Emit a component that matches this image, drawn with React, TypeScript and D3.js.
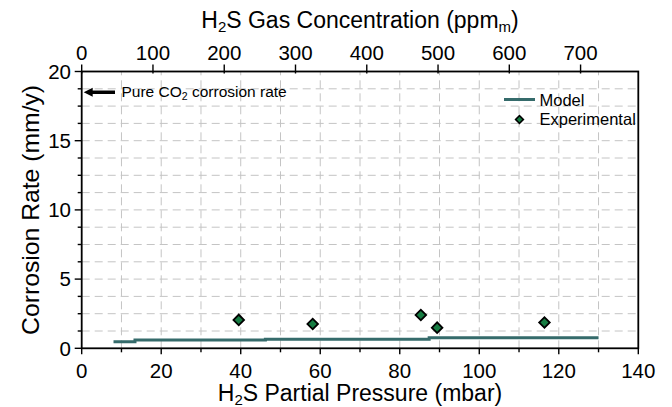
import React from 'react';
import * as d3 from 'd3';

const W = 672;
const H = 407;

const pressureTicks = [0, 20, 40, 60, 80, 100, 120, 140];
const pressureMinor = [10, 30, 50, 70, 90, 110, 130];
const ppmTicks = [0, 100, 200, 300, 400, 500, 600, 700];
const rateTicks = [0, 5, 10, 15, 20];
const rateMinor = [1.25, 2.5, 3.75, 6.25, 7.5, 8.75, 11.25, 12.5, 13.75, 16.25, 17.5, 18.75];

const modelPressure = [8, 13.4, 46.2, 87.4, 130];
const modelRate = [0.48, 0.6, 0.66, 0.76, 0.76];

const expPressure = [39.5, 58.1, 85.3, 89.4, 116.4];
const expRate = [2.05, 1.76, 2.41, 1.49, 1.86];

const pureCO2Rate = 18.5;

const FONT = "'Liberation Sans', Arial, Helvetica, sans-serif";
const LINE_COLOR = '#356b6b';
const DIAMOND_FILL = '#167c42';
const GRID = '#c4c4c4';

export default function App() {
  const L = 81.7, R = 638.3, T = 71.5, B = 348.3;
  const x = d3.scaleLinear().domain([0, 140]).range([L, R]);
  const xTop = d3.scaleLinear().domain([0, 781]).range([L, R]);
  const y = d3.scaleLinear().domain([0, 20]).range([B, T]);

  const gridX = [...pressureMinor, ...pressureTicks.filter((v) => v > 0 && v < 140)];
  const gridY = [...rateMinor, ...rateTicks.filter((v) => v > 0 && v < 20)];

  const modelData = modelPressure.map((p, i) => [p, modelRate[i]] as [number, number]);
  const line = d3
    .line<[number, number]>()
    .x((d) => x(d[0]))
    .y((d) => y(d[1]))
    .curve(d3.curveStepAfter);

  const diamond = d3.symbol().type(d3.symbolSquare).size(56)();
  const diamondSmall = d3.symbol().type(d3.symbolSquare).size(30)();

  const arrowY = y(pureCO2Rate);

  return (
    <svg
      width={W}
      height={H}
      style={{ position: 'absolute', left: 0, top: 0, background: '#fff' }}
      fontFamily={FONT}
    >
      <rect x={0} y={0} width={W} height={H} fill="#fff" />
      {/* grid */}
      <g stroke={GRID} strokeWidth={1} strokeDasharray="8,5">
        {gridX.map((v) => (
          <line key={'gx' + v} x1={x(v)} x2={x(v)} y1={B} y2={T} />
        ))}
        {gridY.map((v) => (
          <line key={'gy' + v} x1={L} x2={R} y1={y(v)} y2={y(v)} />
        ))}
      </g>

      {/* model line */}
      <path d={line(modelData) || ''} fill="none" stroke={LINE_COLOR} strokeWidth={3} />

      {/* experimental */}
      {expPressure.map((p, i) => (
        <path
          key={'e' + i}
          d={diamond || ''}
          transform={`translate(${x(p)},${y(expRate[i])}) rotate(45)`}
          fill={DIAMOND_FILL}
          stroke="#000"
          strokeWidth={1.8}
        />
      ))}

      {/* frame */}
      <rect x={L} y={T} width={R - L} height={B - T} fill="none" stroke="#000" strokeWidth={1.8} />

      {/* ticks */}
      <g stroke="#000" strokeWidth={1.4}>
        {pressureTicks.map((v) => (
          <line key={'bt' + v} x1={x(v)} x2={x(v)} y1={B} y2={B + 6} />
        ))}
        {pressureMinor.map((v) => (
          <line key={'bm' + v} x1={x(v)} x2={x(v)} y1={B} y2={B + 4} />
        ))}
        {rateTicks.map((v) => (
          <line key={'lt' + v} x1={L - 7} x2={L} y1={y(v)} y2={y(v)} />
        ))}
        {rateMinor.map((v) => (
          <line key={'lm' + v} x1={L - 4} x2={L} y1={y(v)} y2={y(v)} />
        ))}
        {ppmTicks.map((v) => (
          <line key={'tt' + v} x1={xTop(v)} x2={xTop(v)} y1={T - 7} y2={T + 2} />
        ))}
      </g>

      {/* tick labels */}
      <g fontSize={20.5} fill="#000">
        {pressureTicks.map((v) => (
          <text key={'bl' + v} x={x(v)} y={378.3} textAnchor="middle">
            {v}
          </text>
        ))}
        {rateTicks.map((v) => (
          <text key={'ll' + v} x={71} y={y(v) + 7.3} textAnchor="end">
            {v}
          </text>
        ))}
        {ppmTicks.map((v) => (
          <text key={'tl' + v} x={xTop(v)} y={60} textAnchor="middle">
            {v}
          </text>
        ))}
      </g>

      {/* axis titles */}
      <text x={360} y={400.5} textAnchor="middle" fontSize={23}>
        H<tspan fontSize={15} dy={4}>2</tspan>
        <tspan dy={-4}>S Partial Pressure (mbar)</tspan>
      </text>
      <text x={360} y={28} textAnchor="middle" fontSize={23}>
        H<tspan fontSize={15} dy={4}>2</tspan>
        <tspan dy={-4}>S Gas Concentration (ppm</tspan>
        <tspan fontSize={15} dy={4}>m</tspan>
        <tspan dy={-4}>)</tspan>
      </text>
      <text
        transform={`translate(39,${(T + B) / 2}) rotate(-90)`}
        textAnchor="middle"
        fontSize={24}
        textLength={250}
        lengthAdjust="spacingAndGlyphs"
      >
        Corrosion Rate (mm/y)
      </text>

      {/* annotation */}
      <polygon
        points={`${L + 2},${arrowY} ${L + 11},${arrowY - 4.5} ${L + 11},${arrowY + 4.5}`}
        fill="#000"
      />
      <line x1={L + 10} x2={115} y1={arrowY} y2={arrowY} stroke="#000" strokeWidth={3.5} />
      <text x={121.5} y={arrowY + 5} fontSize={15.5}>
        Pure CO<tspan fontSize={10.5} dy={3}>2</tspan>
        <tspan dy={-3}> corrosion rate</tspan>
      </text>

      {/* legend */}
      <line x1={504} x2={535} y1={99.5} y2={99.5} stroke={LINE_COLOR} strokeWidth={3} />
      <text x={539.5} y={105.5} fontSize={16.5}>
        Model
      </text>
      <path
        d={diamondSmall || ''}
        transform={`translate(519.5,119.5) rotate(45)`}
        fill={DIAMOND_FILL}
        stroke="#000"
        strokeWidth={1.6}
      />
      <text x={539.5} y={124.5} fontSize={16.5}>
        Experimental
      </text>
    </svg>
  );
}
